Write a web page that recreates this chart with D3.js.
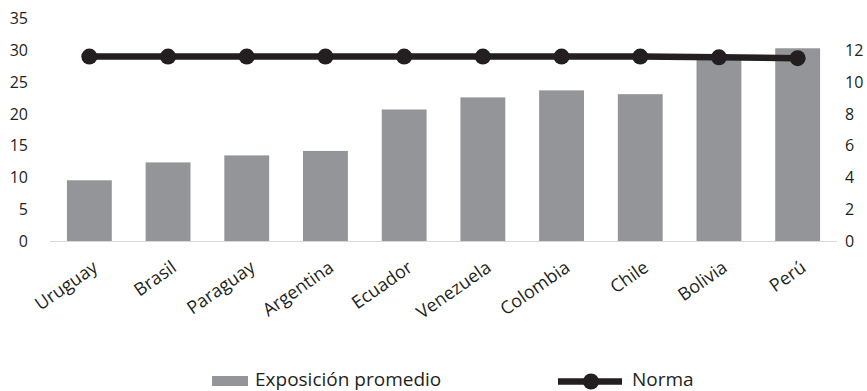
<!DOCTYPE html>
<html>
<head>
<meta charset="utf-8">
<script src="https://cdn.jsdelivr.net/npm/d3@7"></script>
<style>
  html, body { margin: 0; padding: 0; background: #fff; }
  svg { display: block; }
  text { font-family: "Open Sans", "Noto Sans", sans-serif; fill: #231f20; }
</style>
</head>
<body>
<svg id="chart" width="867" height="391"></svg>
<script>
// Countries, ordered by average exposure
const countries = ["Uruguay", "Brasil", "Paraguay", "Argentina", "Ecuador",
                   "Venezuela", "Colombia", "Chile", "Bolivia", "Perú"];
// Average exposure (left axis)
const exposicion = [9.6, 12.4, 13.5, 14.2, 20.7, 22.6, 23.7, 23.1, 28.7, 30.3];
// Reference standard (right axis)
const norma = [11.6, 11.6, 11.6, 11.6, 11.6, 11.6, 11.6, 11.6, 11.55, 11.5];
// Tick labels
const leftTicks = [0, 5, 10, 15, 20, 25, 30, 35];
const rightTicks = [0, 2, 4, 6, 8, 10, 12];

const svg = d3.select("#chart");
const plot = { left: 50, right: 837, top: 18.3, bottom: 241.5 };

const x = d3.scaleBand().domain(countries).range([plot.left, plot.right]).paddingInner(0.43).paddingOuter(0.215);
const yL = d3.scaleLinear().domain([0, 35]).range([plot.bottom, plot.top]);
const yR = d3.scaleLinear().domain([0, 14]).range([plot.bottom, plot.top]);

// Bars
svg.append("g").selectAll("rect").data(countries).join("rect")
  .attr("x", d => x(d))
  .attr("width", x.bandwidth())
  .attr("y", (d, i) => yL(exposicion[i]))
  .attr("height", (d, i) => yL(0) - yL(exposicion[i]))
  .attr("fill", "#939598");

// Category baseline
svg.append("line")
  .attr("x1", plot.left).attr("x2", plot.right)
  .attr("y1", yL(0)).attr("y2", yL(0))
  .attr("stroke", "#d9d9d9").attr("stroke-width", 1.2);

// Left axis labels
const leftAxis = d3.axisLeft(yL).tickValues(leftTicks).tickSize(0).tickPadding(0);
const gL = svg.append("g").attr("transform", "translate(28,0)").call(leftAxis);
gL.select(".domain").remove();
gL.selectAll("text").style("font-size", "16px").attr("fill", "#231f20")
  .style("font-family", '"Open Sans", sans-serif');

// Right axis labels
const rightAxis = d3.axisRight(yR).tickValues(rightTicks).tickSize(0).tickPadding(0);
const gR = svg.append("g").attr("transform", "translate(845,0)").call(rightAxis);
gR.select(".domain").remove();
gR.selectAll("text").style("font-size", "16px").attr("fill", "#231f20")
  .style("font-family", '"Open Sans", sans-serif');

// Rotated category labels
const cx = d => x(d) + x.bandwidth() / 2;
svg.append("g").selectAll("text").data(countries).join("text")
  .attr("transform", d => `translate(${cx(d) + 6},265) rotate(-35)`)
  .attr("text-anchor", "end")
  .attr("dy", "0.35em")
  .style("font-size", "18px")
  .text(d => d);

// Norma line with markers
const line = d3.line()
  .x((d, i) => cx(countries[i]))
  .y(d => yR(d));
svg.append("path").datum(norma)
  .attr("d", line)
  .attr("fill", "none")
  .attr("stroke", "#231f20")
  .attr("stroke-width", 6.5);
svg.append("g").selectAll("circle").data(norma).join("circle")
  .attr("cx", (d, i) => cx(countries[i]))
  .attr("cy", d => yR(d))
  .attr("r", 8)
  .attr("fill", "#231f20");

// Legend
const lg = svg.append("g");
lg.append("rect").attr("x", 212).attr("y", 376).attr("width", 36).attr("height", 10).attr("fill", "#939598");
lg.append("text").attr("x", 255).attr("y", 386).style("font-size", "19px").text("Exposición promedio");
lg.append("line").attr("x1", 558).attr("x2", 622).attr("y1", 381.5).attr("y2", 381.5)
  .attr("stroke", "#231f20").attr("stroke-width", 6.5);
lg.append("circle").attr("cx", 591).attr("cy", 381.5).attr("r", 8).attr("fill", "#231f20");
lg.append("text").attr("x", 632).attr("y", 386).style("font-size", "19px").text("Norma");
</script>
</body>
</html>
